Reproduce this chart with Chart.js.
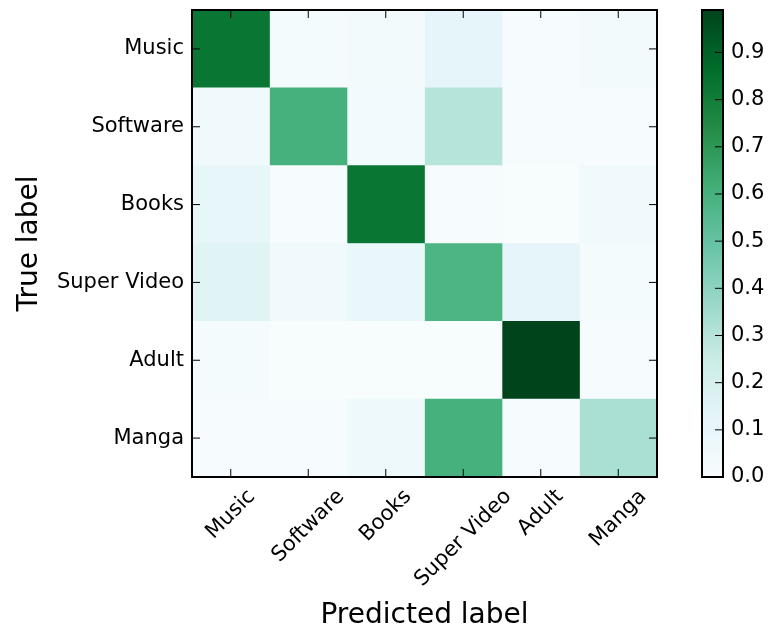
<!DOCTYPE html>
<html>
<head>
<meta charset="utf-8">
<script src="https://cdn.jsdelivr.net/npm/chart.js@4/dist/chart.umd.min.js"></script>
<style>
  body { margin: 0; background: #fff; }
  #wrap { position: relative; width: 770px; height: 633px; }
  #cm { position: absolute; left: 0; top: 0; }
  #cbar { position: absolute; left: 701px; top: 0; }
</style>
</head>
<body>
<div id="wrap">
  <canvas id="cm" width="770" height="633"></canvas>
  <canvas id="cbar" width="69" height="633"></canvas>
</div>
<script>
var trueLabels = ['Music', 'Software', 'Books', 'Super Video', 'Adult', 'Manga'];
var predictedLabels = ['Music', 'Software', 'Books', 'Super Video', 'Adult', 'Manga'];

// one row per true label, columns follow predictedLabels
var music      = [0.83, 0.02, 0.03, 0.12, 0.01, 0.03];
var software   = [0.05, 0.60, 0.04, 0.30, 0.01, 0.01];
var books      = [0.11, 0.01, 0.83, 0.01, 0.00, 0.05];
var superVideo = [0.15, 0.05, 0.09, 0.58, 0.12, 0.02];
var adult      = [0.02, 0.00, 0.00, 0.00, 0.99, 0.01];
var manga      = [0.01, 0.01, 0.06, 0.60, 0.01, 0.33];

var colorbarTicks = [0.0, 0.1, 0.2, 0.3, 0.4, 0.5, 0.6, 0.7, 0.8, 0.9];

var matrix = [music, software, books, superVideo, adult, manga];
var vmax = Math.max.apply(null, matrix.map(function(r) { return Math.max.apply(null, r); }));

var FONT = '"DejaVu Sans", "Liberation Sans", sans-serif';

// matplotlib BuGn
var BUGN = [
  [247, 252, 253], [229, 245, 249], [204, 236, 230], [153, 216, 201],
  [102, 194, 164], [65, 174, 118],  [35, 139, 69],   [0, 109, 44],
  [0, 68, 27]
];

function bugn(t) {
  t = Math.max(0, Math.min(1, t));
  var p = t * (BUGN.length - 1);
  var i = Math.min(Math.floor(p), BUGN.length - 2);
  var f = p - i;
  var c = [0, 1, 2].map(function(k) {
    return Math.round(BUGN[i][k] + (BUGN[i + 1][k] - BUGN[i][k]) * f);
  });
  return 'rgb(' + c.join(',') + ')';
}

var frame = {
  id: 'frame',
  afterDatasetsDraw: function(chart) {
    var ctx = chart.ctx, a = chart.chartArea;
    var xs = chart.scales.x, ys = chart.scales.y;
    ctx.save();
    ctx.strokeStyle = '#000';
    ctx.lineWidth = 1;
    ctx.beginPath();
    predictedLabels.forEach(function(_, j) {
      var x = xs.getPixelForValue(j + 0.5);
      ctx.moveTo(x, a.top); ctx.lineTo(x, a.top + 8);
      ctx.moveTo(x, a.bottom); ctx.lineTo(x, a.bottom - 8);
    });
    trueLabels.forEach(function(_, i) {
      var y = ys.getPixelForValue(i);
      ctx.moveTo(a.left, y); ctx.lineTo(a.left + 8, y);
      ctx.moveTo(a.right, y); ctx.lineTo(a.right - 8, y);
    });
    ctx.stroke();
    ctx.lineWidth = 2;
    ctx.strokeRect(a.left, a.top, a.right - a.left, a.bottom - a.top);

    // rotated x labels, centred on the tick like matplotlib
    ctx.font = '21px ' + FONT;
    ctx.fillStyle = '#000';
    ctx.textAlign = 'center';
    ctx.textBaseline = 'middle';
    predictedLabels.forEach(function(lab, j) {
      var x = xs.getPixelForValue(j + 0.5);
      var w = ctx.measureText(lab).width;
      var half = (w + 21) * Math.SQRT1_2 / 2;
      ctx.save();
      ctx.translate(x, a.bottom + 9 + half);
      ctx.rotate(-Math.PI / 4);
      ctx.fillText(lab, 0, 0);
      ctx.restore();
    });
    ctx.restore();
  }
};

var datasets = predictedLabels.map(function(lab, j) {
  return {
    label: lab,
    data: trueLabels.map(function() { return 1; }),
    backgroundColor: matrix.map(function(row) { return bugn(row[j] / vmax); }),
    borderWidth: 0,
    barPercentage: 1,
    categoryPercentage: 1,
    stack: 'cm'
  };
});

new Chart(document.getElementById('cm'), {
  type: 'bar',
  data: { labels: trueLabels, datasets: datasets },
  plugins: [frame],
  options: {
    indexAxis: 'y',
    responsive: false,
    animation: false,
    events: [],
    layout: { padding: { left: 0, top: 10, right: 113, bottom: 0 } },
    plugins: { legend: { display: false }, tooltip: { enabled: false } },
    scales: {
      x: {
        type: 'linear', stacked: true, min: 0, max: predictedLabels.length,
        ticks: { display: false },
        grid: { display: false },
        border: { display: false },
        title: { display: true, text: 'Predicted label', color: '#000',
                 font: { family: FONT, size: 28 }, padding: { top: 0, bottom: 0 } },
        afterFit: function(s) { s.height = 156; s.paddingLeft = 0; s.paddingRight = 0; }
      },
      y: {
        type: 'category', stacked: true,
        ticks: { color: '#000', font: { family: FONT, size: 21 }, padding: 8 },
        grid: { display: false, drawTicks: false },
        border: { display: false },
        title: { display: true, text: 'True label', color: '#000',
                 font: { family: FONT, size: 28 }, padding: { top: 13, bottom: 0 } },
        afterFit: function(s) { s.width = 192; s.paddingTop = 0; s.paddingBottom = 0; }
      }
    }
  }
});

var cbarFrame = {
  id: 'cbarFrame',
  afterDatasetsDraw: function(chart) {
    var ctx = chart.ctx, a = chart.chartArea, ys = chart.scales.y;
    ctx.save();
    ctx.strokeStyle = '#000';
    ctx.lineWidth = 1;
    ctx.beginPath();
    colorbarTicks.forEach(function(v) {
      var y = ys.getPixelForValue(v);
      ctx.moveTo(a.right, y); ctx.lineTo(a.right - 8, y);
    });
    ctx.stroke();
    ctx.lineWidth = 2;
    ctx.strokeRect(a.left + 1, a.top, a.right - a.left - 1, a.bottom - a.top);
    ctx.restore();
  }
};

new Chart(document.getElementById('cbar'), {
  type: 'bar',
  data: {
    labels: [''],
    datasets: [{
      data: [vmax],
      borderWidth: 0,
      barPercentage: 1,
      categoryPercentage: 1,
      backgroundColor: function(c) {
        var a = c.chart.chartArea;
        if (!a) return 'rgb(247,252,253)';
        var g = c.chart.ctx.createLinearGradient(0, a.bottom, 0, a.top);
        BUGN.forEach(function(rgb, i) {
          g.addColorStop(i / (BUGN.length - 1), 'rgb(' + rgb.join(',') + ')');
        });
        return g;
      }
    }]
  },
  plugins: [cbarFrame],
  options: {
    responsive: false,
    animation: false,
    events: [],
    layout: { padding: { left: 0, top: 10, right: 0, bottom: 156 } },
    plugins: { legend: { display: false }, tooltip: { enabled: false } },
    scales: {
      x: { display: false },
      y: {
        position: 'right', min: 0, max: vmax,
        grid: { display: false, drawTicks: false },
        border: { display: false },
        ticks: {
          color: '#000', font: { family: FONT, size: 21 }, padding: 8,
          callback: function(v) { return v.toFixed(1); }
        },
        afterBuildTicks: function(s) {
          s.ticks = colorbarTicks.map(function(v) { return { value: v }; });
        },
        afterFit: function(s) { s.width = 47; s.paddingTop = 0; s.paddingBottom = 0; }
      }
    }
  }
});
</script>
</body>
</html>
